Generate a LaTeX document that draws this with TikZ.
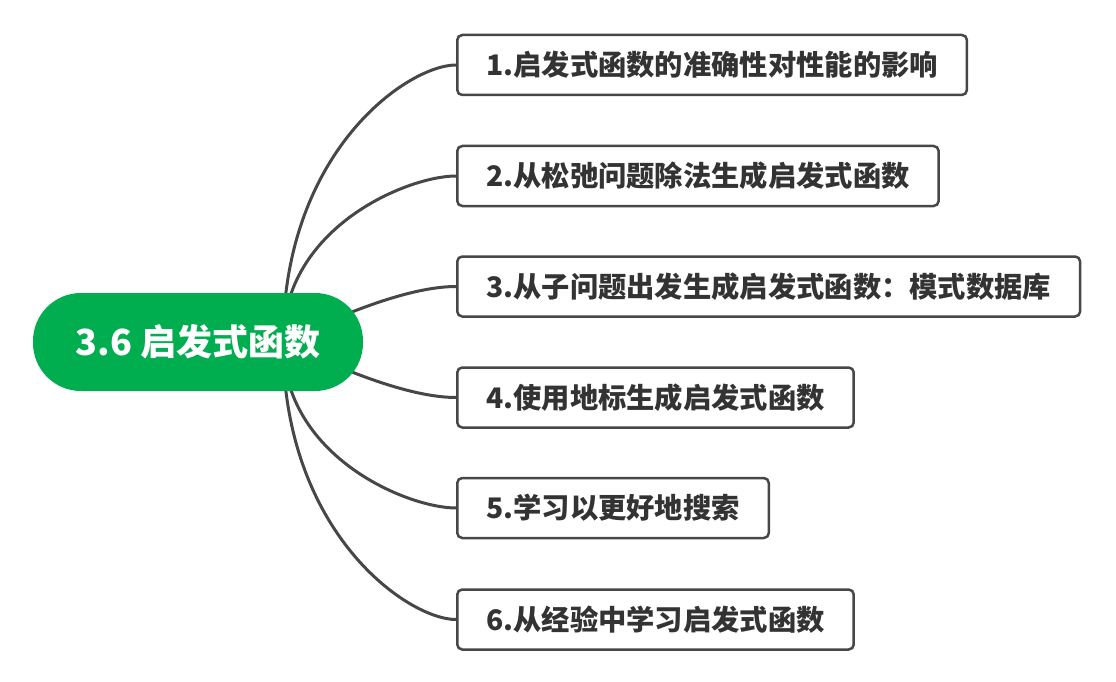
\documentclass[tikz,border=0pt]{standalone}
\usepackage{fontspec}
\setmainfont{Noto Sans CJK SC}
\usetikzlibrary{backgrounds}
\definecolor{mindgreen}{HTML}{00AE50}
\definecolor{linegray}{HTML}{474747}
\definecolor{textgray}{HTML}{333333}
\begin{document}
\begin{tikzpicture}[x=1pt,y=-1pt,
    root/.style = {fill=mindgreen,rounded corners=48pt,minimum width=330pt,
                   minimum height=98pt,text=white,font=\fontsize{36}{43}\selectfont\bfseries},
    leaf/.style = {draw=linegray,line width=2.5pt,rounded corners=5pt,fill=white,
                   minimum height=60pt,inner xsep=29pt,anchor=west,text=textgray,
                   font=\fontsize{28.3}{34}\selectfont\bfseries},
    branch/.style = {draw=linegray,line width=3pt}]
    \useasboundingbox (0,0) rectangle (1116,682);

    \node[root] (root) at (198,342) {3.6 启发式函数};
    \coordinate (hub) at (283,342);

    \node[leaf] (b1) at (456,65)    {1.启发式函数的准确性对性能的影响};
    \node[leaf] (b2) at (456,176)   {2.从松弛问题除法生成启发式函数};
    \node[leaf] (b3) at (456,286.5) {3.从子问题出发生成启发式函数：模式数据库};
    \node[leaf] (b4) at (456,397.5) {4.使用地标生成启发式函数};
    \node[leaf] (b5) at (456,508)   {5.学习以更好地搜索};
    \node[leaf] (b6) at (456,619.5) {6.从经验中学习启发式函数};

    \begin{pgfonlayer}{background}
        \draw[branch] (hub) .. controls +(0,-191) and +(-48,0) .. (b1.west);
        \draw[branch] (hub) .. controls +(0,-115) and +(-48,0) .. (b2.west);
        \draw[branch] (hub) .. controls +(37,-17) and +(-55,0) .. (b3.west);
        \draw[branch] (hub) .. controls +(37,17) and +(-55,0) .. (b4.west);
        \draw[branch] (hub) .. controls +(0,115) and +(-48,0) .. (b5.west);
        \draw[branch] (hub) .. controls +(0,191) and +(-48,0) .. (b6.west);
    \end{pgfonlayer}
\end{tikzpicture}
\end{document}
